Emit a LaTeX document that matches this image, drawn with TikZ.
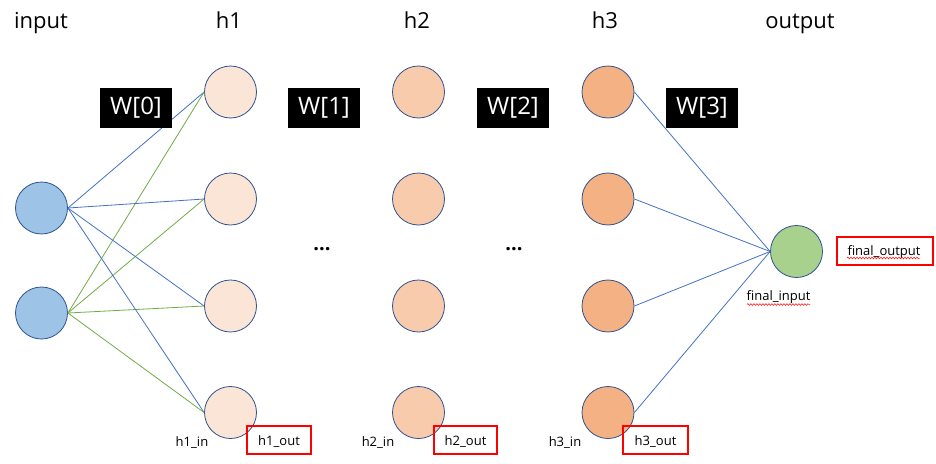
\documentclass[tikz,border=0pt]{standalone}
\usepackage{fontspec}
\setmainfont{Open Sans}
\usetikzlibrary{decorations.pathmorphing}
\definecolor{nodeborder}{HTML}{2F528F}
\definecolor{infill}{HTML}{9DC3E6}
\definecolor{hafill}{HTML}{FBE5D6}
\definecolor{hbfill}{HTML}{F8CBAD}
\definecolor{hcfill}{HTML}{F4B183}
\definecolor{outfill}{HTML}{A9D18E}
\definecolor{blueline}{HTML}{4472C4}
\definecolor{greenline}{HTML}{70AD47}
\definecolor{redbox}{HTML}{FF0000}
\begin{document}
\begin{tikzpicture}[x=1pt,y=-1pt,
  neuron/.style={circle,draw=nodeborder,line width=0.8pt,minimum size=52pt,inner sep=0pt},
  title/.style={anchor=base,font=\fontsize{22}{26}\selectfont,text=black},
  wbox/.style={fill=black,text=white,minimum width=72pt,minimum height=40pt,inner sep=0pt,font=\fontsize{24}{28}\selectfont},
  small/.style={anchor=base,font=\fontsize{13}{15}\selectfont,text=black},
  outbox/.style={draw=redbox,line width=1.1pt,minimum height=28pt,inner sep=0pt},
  bedge/.style={draw=blueline,line width=0.8pt},
  gedge/.style={draw=greenline,line width=0.8pt},
  dots/.style={font=\fontsize{20}{24}\selectfont\bfseries},
  squiggle/.style={draw=redbox,line width=0.5pt,decorate,decoration={snake,amplitude=0.9pt,segment length=3pt}}
]
\useasboundingbox (0,0) rectangle (936,463);
\fill[white] (0,0) rectangle (936,463);

% titles
\node[title] (tin) at (41,28) {input};
\node[title] (th1) at (229,28) {h1};
\node[title] (th2) at (417,28) {h2};
\node[title] (th3) at (605,28) {h3};
\node[title] (tout) at (800,28) {output};

% input neurons
\node[neuron,fill=infill] (i1) at (41.5,208) {};
\node[neuron,fill=infill] (i2) at (41.5,313) {};

% hidden layers
\foreach \k/\y in {1/92,2/199,3/306,4/412.5}{
  \node[neuron,fill=hafill] (a\k) at (230.5,\y) {};
  \node[neuron,fill=hbfill] (b\k) at (418.5,\y) {};
  \node[neuron,fill=hcfill] (c\k) at (608,\y) {};
}
% output neuron
\node[neuron,fill=outfill] (o) at (796.5,251.5) {};

% edges input -> h1
\foreach \k in {1,2,3,4}{
  \draw[bedge] (i1.east) -- (a\k.west);
  \draw[gedge] (i2.east) -- (a\k.west);
}
% edges h3 -> output
\foreach \k in {1,2,3,4}{
  \draw[bedge] (c\k.east) -- (o.west);
}

% weight labels
\node[wbox] (w0) at (136,108) {W[0]};
\node[wbox] (w1) at (324,108) {W[1]};
\node[wbox] (w2) at (513,108) {W[2]};
\node[wbox] (w3) at (702,108) {W[3]};

% ellipses
\node[dots] (d1) at (322,249) {...};
\node[dots] (d2) at (514,249) {...};

% in/out labels
\node[small] (l1in) at (192,446) {h1\_in};
\node[small] (l2in) at (378,446) {h2\_in};
\node[small] (l3in) at (565,446) {h3\_in};

\node[outbox,minimum width=64pt] (l1out) at (279,440) {};
\node[small] at (279,445.5) {h1\_out};
\node[outbox,minimum width=63pt] (l2out) at (465.5,440) {};
\node[small] at (465.5,445.5) {h2\_out};
\node[outbox,minimum width=65pt] (l3out) at (655.5,440) {};
\node[small] at (655.5,445.5) {h3\_out};

\node[outbox,minimum width=96pt] (fobox) at (885,251) {};
\node[small] (fo) at (884,255.5) {final\_output};
\node[small] (fi) at (778.5,300) {final\_input};

% spell-check squiggles
\coordinate (sq1a) at (847,258);
\coordinate (sq1b) at (920,258);
\draw[squiggle] (sq1a) -- (sq1b);
\coordinate (sq2a) at (747,304.5);
\coordinate (sq2b) at (810,304.5);
\draw[squiggle] (sq2a) -- (sq2b);
\end{tikzpicture}
\end{document}
